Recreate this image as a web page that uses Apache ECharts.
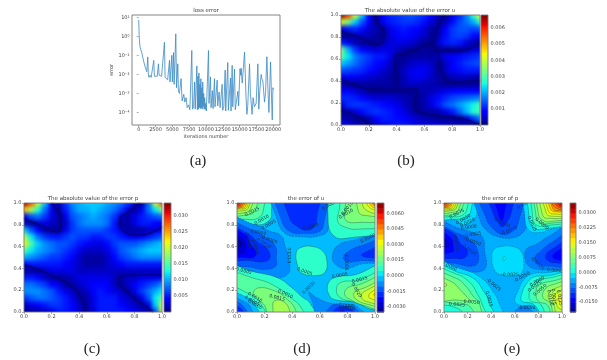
<!DOCTYPE html>
<html>
<head>
<meta charset="utf-8">
<title>error plots</title>
<script src="https://cdn.jsdelivr.net/npm/echarts@6/dist/echarts.min.js"></script>
<style>
html, body { margin: 0; padding: 0; background: #fff; }
#chart { position: absolute; left: 0; top: 0; width: 607px; height: 360px; filter: blur(0.35px); }
.clip { position: absolute; overflow: hidden; background: #0020ff; }
.heat { position: absolute; filter: blur(2.3px); }
</style>
</head>
<body>
<div class="clip" id="clipB"><div class="heat" id="heatB"></div></div>
<div class="clip" id="clipC"><div class="heat" id="heatC"></div></div>
<div id="chart"></div>
<script>
// (a) loss curve
const lossIter = [0,60,120,200,280,350,450,600,800,1000,1200,1344,1420,1520,1700,1850,2050,2237,2330,2500,2750,2932,3030,3200,3400,3600,3824,3920,4100,4300,4570,4650,4760,4917,5000,5060,5165,5260,5350,5510,5620,5808,5900,6050,6300,6450,6700,6850,7050,7200,7400,7600,7750,7891,8000,8150,8300,8400,8640,8720,8800,8880,8950,9020,9100,9160,9240,9300,9380,9440,9520,9580,9660,9720,9800,9880,9960,10050,10370,10450,10670,10750,10950,11050,11260,11340,11660,11740,11950,12100,12400,12480,12650,12850,12930,13240,13320,13640,13720,13890,13980,14240,14350,14740,14850,15050,15150,15230,15380,15500,15730,15830,15950,16080,16200,16470,16600,16850,17000,17200,17450,17710,17850,18000,18200,18300,18450,18700,18850,19050,19200,19350,19600,19780,19850,19950,20000];
const lossVal = [7.2,1.2,0.5,0.28,0.35,0.26,0.14,0.08,0.04,0.022,0.014,0.083,0.012,0.007,0.009,0.007,0.008,0.055,0.008,0.007,0.008,0.036,0.009,0.011,0.008,0.007,0.49,0.007,0.006,0.0052,0.055,0.004,0.004,0.1,0.004,0.0035,0.14,0.003,0.0025,1.35,0.002,0.036,0.0013,0.001,0.006,0.0004,0.0009,0.00035,0.0006,0.00018,0.00025,0.00014,0.00016,0.18,0.00015,0.0002,0.004,0.00015,0.028,0.00014,0.008,0.00015,0.012,0.00018,0.003,0.00016,0.006,0.00017,0.002,0.00015,0.004,0.0002,0.001,0.00015,0.0006,0.00014,0.0003,0.00012,0.18,0.0003,0.0074,0.00018,0.0014,0.00016,0.006,0.0002,0.005,0.00022,0.0012,0.00018,0.003,0.00013,0.0002,0.017,0.00012,0.042,0.00013,0.0065,0.00012,0.03,0.0002,0.019,0.00014,0.0013,0.00022,0.02,0.009,0.021,0.0035,0.012,0.15,0.012,0.0006,0.00008,0.0002,0.036,0.001,0.00008,0.0006,0.0002,0.0003,0.036,0.00015,0.0015,0.01,0.006,0.0045,0.00035,0.0011,0.085,0.002,0.0001,0.045,0.0002,0.00004,0.002,0.0016];
const lossXTicks = [0,2500,5000,7500,10000,12500,15000,17500,20000];
const lossYTicks = [10,1,0.1,0.01,0.001,0.0001];
const lossYLabels = ['10¹','10⁰','10⁻¹','10⁻²','10⁻³','10⁻⁴'];

// (b) |error u|, in units of 1e-4, rows from y=1 down to y=0, columns x=0..1
const absURows = [
  [68,58,42,22,8,1,8,11,12,13,14,13,11,8,4,1,6,11,17,28,44],
  [42,34,22,14,7,1,7,10,11,12,12,11,9,5,2,3,9,13,16,20,28],
  [5,10,11,9,5,3,1,6,9,10,9,8,5,2,2,8,12,14,14,13,14],
  [1,1,3,4,3,2,1,5,8,9,8,6,4,1,3,9,12,13,12,9,7],
  [10,6,3,1,1,1,3,5,6,6,5,3,1,1,5,10,11,10,5,3,1],
  [34,20,12,8,6,5,6,6,4,2,1,1,2,1,1,1,1,2,3,5,6],
  [32,24,17,14,12,10,10,6,2,1,2,2,2,2,4,6,8,9,10,11,12],
  [22,19,16,13,11,9,8,4,1,2,4,5,5,4,1,4,8,10,12,13,14],
  [14,13,12,11,9,7,5,3,1,4,6,7,7,5,1,4,7,9,10,10,10],
  [6,7,7,6,5,4,3,2,1,3,6,7,6,4,2,2,3,4,4,3,3],
  [2,1,1,2,2,2,2,2,2,3,4,4,3,3,2,1,1,1,1,1,2],
  [8,7,5,3,1,1,1,1,1,1,1,2,3,3,5,6,7,8,8,8,8],
  [11,11,10,8,6,5,5,5,4,3,2,1,3,6,9,11,13,14,15,16,17],
  [5,11,12,12,11,10,9,8,6,4,2,1,3,6,10,14,16,19,22,25,30],
  [1,3,5,9,11,12,11,10,8,6,3,1,2,2,3,6,10,15,21,27,29],
  [3,2,1,1,3,8,10,10,9,8,6,4,3,2,1,1,1,1,5,12,17],
  [9,7,5,3,1,4,7,9,10,10,9,8,7,7,7,6,5,4,3,1,2]
];
// (c) |error p|, in units of 1e-3
const absPRows = [
  [33,28,20,11,4,1,6,9,10,11,11,11,10,9,8,6,3,1,8,20,28],
  [24,19,13,8,3,1,5,8,10,10,11,10,9,8,6,3,1,3,8,12,18],
  [4,7,8,6,3,1,3,7,8,9,10,9,8,6,3,1,3,5,6,7,8],
  [2,1,2,3,2,1,2,6,8,9,9,9,8,5,1,1,3,5,5,4,3],
  [11,7,4,1,1,1,3,6,7,7,7,7,6,5,3,1,1,1,2,3,4],
  [19,12,8,6,5,5,6,7,6,6,5,5,6,6,5,4,3,4,5,6,7],
  [22,15,11,9,8,7,7,6,5,4,3,3,4,6,7,7,7,8,9,10,11],
  [15,12,10,9,8,7,6,5,3,2,2,2,3,5,7,8,9,10,11,11,11],
  [10,9,8,7,6,6,5,4,2,1,1,1,2,4,6,7,8,9,9,9,9],
  [4,5,5,5,5,5,4,3,2,1,1,1,2,3,4,5,5,5,5,5,5],
  [1,1,1,2,3,3,3,3,2,2,2,2,2,2,2,2,2,2,2,2,2],
  [5,5,4,2,1,1,1,2,3,3,3,3,3,2,1,2,2,3,3,3,3],
  [8,8,7,6,4,3,1,1,2,3,4,4,4,2,1,2,4,5,6,7,9],
  [9,9,9,8,7,5,3,2,1,2,4,5,4,3,2,1,3,6,8,10,12],
  [6,7,8,8,7,6,5,3,1,1,3,5,5,5,3,2,1,3,7,12,16],
  [2,3,4,5,6,6,5,4,2,1,3,5,5,5,4,3,2,1,3,11,20],
  [1,1,1,2,3,5,5,4,2,1,2,5,5,5,5,4,3,2,1,7,20]
];
const absUMax = 68;
const absPMax = 33.8;
const absUTicks = [0.001,0.002,0.003,0.004,0.005,0.006];
const absPTicks = [0.005,0.01,0.015,0.02,0.025,0.03];
const unitTicks = [0,0.2,0.4,0.6,0.8,1];

// near-zero valleys of (b) and (c)
const absUValleys = [
  [[0,.85],[.14,.79],[.26,.73],[.31,.83],[.27,.92],[.24,1]],
  [[.39,.5],[.39,.62],[.47,.65],[.6,.72],[.67,.76],[.69,.88],[.74,1]],
  [[.67,.74],[.7,.67],[.81,.67],[1,.74]],
  [[.7,.65],[.72,.52],[.75,.42],[.81,.39],[1,.41]],
  [[.39,.5],[.4,.4],[.39,.33]],
  [[0,.42],[.21,.33],[.39,.32],[.55,.33]],
  [[.55,.32],[.53,.2],[.55,.13],[.67,.09],[.86,.06],[1,0]],
  [[0,.136],[.14,.06],[.21,0]]
];
const absPValleys = [
  [[0,.857],[.166,.766],[.24,.735],[.27,.857],[.21,.98],[.2,1]],
  [[.84,1],[.77,.93],[.695,.84],[.73,.735],[.84,.705],[1,.78]],
  [[0,.43],[.14,.37],[.31,.265],[.41,.14],[.44,0]],
  [[1,.34],[.79,.34],[.68,.295],[.79,.14],[.86,.07],[.935,0]]
];

// corners outside the plot, they close the traced contours
const TL = [-0.1,1.1], TR = [1.1,1.1], BL = [-0.1,-0.1], BR = [1.1,-0.1];

// (d) error u: filled contours, [lower level, outline]
const uLevels = [-0.0035,-0.003,-0.0025,-0.002,-0.0015,-0.001,-0.0005,0,0.0005,0.001,0.0015,0.002,0.0025,0.003,0.0035,0.004,0.0045,0.005,0.0055,0.006,0.0065,0.007];
const uTicks = [-0.003,-0.0015,0,0.0015,0.003,0.0045,0.006];
const uBase = -0.0005;
const uRegions = [
  [0.0005,[[.43,.55],[.47,.595],[.55,.6],[.62,.56],[.65,.48],[.64,.37],[.58,.335],[.47,.355],[.44,.42]]],
  // top left corner
  [0.0005,[[.24,1.1],[.25,.93],[.24,.85],[.15,.8],[-.1,.88],TL]],
  [0.001,[[.18,1.1],[.19,.93],[.15,.86],[.07,.85],[-.1,.89],TL]],
  [0.0015,[[.14,1.1],[.13,.93],[.07,.89],[-.1,.90],TL]],
  [0.002,[[.11,1.1],[.1,.95],[.05,.91],[-.1,.915],TL]],
  [0.0025,[[.095,1.1],[.08,.95],[.04,.93],[-.1,.93],TL]],
  [0.003,[[.08,1.1],[.07,.96],[.03,.945],[-.1,.945],TL]],
  [0.0035,[[.07,1.1],[.06,.965],[.02,.955],[-.1,.955],TL]],
  [0.004,[[.055,1.1],[.045,.97],[-.1,.965],TL]],
  [0.0045,[[.045,1.1],[.035,.975],[-.1,.97],TL]],
  [0.005,[[.035,1.1],[.025,.98],[-.1,.975],TL]],
  [0.0055,[[.025,1.1],[.015,.988],[-.1,.985],TL]],
  [0.006,[[.018,1.1],[.008,.992],[-.1,.99],TL]],
  // left blue
  [-0.001,[[-.1,.87],[.13,.80],[.24,.74],[.32,.70],[.35,.6],[.38,.46],[.37,.35],[.27,.31],[.12,.33],[-.1,.385]]],
  [-0.0015,[[-.1,.83],[.1,.76],[.2,.69],[.28,.6],[.285,.5],[.28,.42],[.2,.39],[.1,.41],[-.1,.46]]],
  [-0.002,[[-.1,.80],[.08,.72],[.15,.64],[.22,.58],[.24,.5],[.2,.46],[.1,.47],[-.1,.5]]],
  [-0.0025,[[-.1,.78],[.06,.71],[.1,.62],[.14,.55],[.12,.5],[.05,.5],[-.1,.52]]],
  [-0.003,[[-.1,.76],[.04,.68],[.06,.6],[.05,.54],[-.1,.54]]],
  [-0.0035,[[-.1,.72],[.02,.66],[.03,.6],[-.1,.57]]],
  // top blue
  [-0.001,[[.26,1.1],[.29,.85],[.35,.72],[.46,.69],[.6,.7],[.66,.76],[.67,1.1]]],
  [-0.0015,[[.29,1.1],[.32,.85],[.38,.74],[.5,.72],[.6,.74],[.63,.82],[.64,1.1]]],
  [-0.002,[[.35,1.1],[.38,.86],[.43,.79],[.5,.75],[.56,.78],[.58,.88],[.59,1.1]]],
  // right blue
  [-0.001,[[1.1,.74],[.85,.66],[.73,.61],[.69,.5],[.73,.42],[.8,.40],[.9,.44],[1.1,.48]]],
  [-0.0015,[[1.1,.67],[.88,.6],[.8,.55],[.77,.5],[.8,.46],[.9,.47],[1.1,.49]]],
  [-0.002,[[1.1,.63],[.93,.55],[.9,.52],[.95,.5],[1.1,.5]]],
  // bottom left
  [0.0005,[[-.1,.41],[.15,.36],[.3,.31],[.40,.22],[.47,.14],[.53,.08],[.58,-.1],BL]],
  [0.001,[[-.1,.34],[.15,.30],[.3,.22],[.4,.12],[.46,.05],[.5,-.1],BL]],
  [0.0015,[[.15,.22],[.28,.19],[.36,.12],[.42,.03],[.43,-.1],[.24,-.1],[.2,.06],[.12,.15]]],
  [0.002,[[.27,.1],[.33,.1],[.38,.02],[.38,-.1],[.28,-.1],[.26,.05]]],
  [0.0005,[[-.1,.23],[.1,.16],[.17,.08],[.22,-.1],BL]],
  [-0.0005,[[-.1,.19],[.08,.13],[.13,.07],[.18,-.1],BL]],
  [-0.001,[[-.1,.15],[.06,.09],[.1,.04],[.13,-.1],BL]],
  [-0.0015,[[-.1,.11],[.04,.06],[.08,-.1],BL]],
  [-0.002,[[-.1,.07],[.03,.03],[.05,-.1],BL]],
  // bottom wedge
  [-0.001,[[.52,.18],[.58,.13],[.68,.08],[.78,.075],[.88,.04],[.97,-.1],[.6,-.1],[.55,.08]]],
  [-0.0015,[[.68,.055],[.78,.055],[.86,.03],[.93,-.1],[.64,-.1]]],
  [-0.002,[[.72,.035],[.82,.03],[.89,-.1],[.68,-.1]]],
  [-0.0025,[[.76,.015],[.84,-.1],[.72,-.1]]],
  // bottom right
  [0.0005,[[1.1,.43],[.85,.34],[.72,.32],[.66,.26],[.67,.15],[.72,.11],[.85,.09],[.95,.04],[1.1,-.05],BR]],
  [0.001,[[1.1,.37],[.87,.29],[.75,.27],[.72,.2],[.75,.13],[.88,.08],[.96,.03],[1.1,0],BR]],
  [0.0015,[[1.1,.33],[.88,.25],[.8,.22],[.78,.16],[.82,.115],[.92,.06],[1.1,.02]]],
  [0.002,[[1.1,.3],[.92,.22],[.85,.18],[.86,.12],[.95,.07],[1.1,.05]]],
  [0.0025,[[1.1,.27],[.94,.2],[.9,.15],[.93,.1],[1.1,.08]]],
  [0.003,[[1.1,.24],[.97,.18],[.96,.13],[1.1,.1]]],
  [0.0035,[[1.1,.2],[.99,.16],[1.1,.12]]],
  // top right
  [0.0005,[[.70,1.1],[.66,.86],[.70,.70],[.81,.68],[1.1,.78],TR]],
  [0.001,[[.78,1.1],[.74,.93],[.73,.83],[.78,.78],[.88,.76],[1.1,.82],TR]],
  [0.0015,[[.83,1.1],[.78,.92],[.79,.84],[.86,.82],[1.1,.87],TR]],
  [0.002,[[.89,1.1],[.88,.92],[.93,.885],[1.1,.90],TR]],
  [0.0025,[[.93,1.1],[.93,.94],[1.1,.925],TR]],
  [0.003,[[.95,1.1],[.96,.96],[1.1,.945],TR]],
  [0.0035,[[.965,1.1],[.975,.97],[1.1,.96],TR]],
  [0.004,[[.98,1.1],[.99,.98],[1.1,.975],TR]],
  [0.0045,[[.99,1.1],[.995,.99],[1.1,.985],TR]]
];
const uLabels = [
  [.11,.92,'0.0015',25],[.18,.845,'0.0010',30],[.23,.80,'0.0005',30],[.155,.73,'0.0000',-10],
  [.23,.665,'-0.0005',-20],[.19,.63,'-0.0010',-30],[.08,.66,'-0.0010',-80],[.13,.6,'-0.0005',-70],
  [.385,.52,'0.0000',90],[.49,.37,'0.0005',-20],[.53,.78,'-0.0010',15],[.52,.22,'0.0000',45],
  [.745,.335,'0.0005',10],[.79,.46,'-0.0005',-90],[.95,.675,'0.0000',25],[.89,.295,'0.0015',15],
  [.865,.2,'0.0020',-60],[.79,.035,'-0.0010',-5],[.79,.06,'-0.0005',-5],[.67,.98,'0.0000',30],
  [.8,.95,'0.0015',50],[.79,.9,'0.0010',30],[.05,.375,'0.0005',-15],[.13,.135,'0.0010',-30],
  [.11,.1,'0.0005',-30],[.13,.07,'0.0000',-30],[.29,.13,'0.0015',-15],[.35,.165,'0.0010',-25]
];

// (e) error p
const pLevels = [-0.02,-0.0175,-0.015,-0.0125,-0.01,-0.0075,-0.005,-0.0025,0,0.0025,0.005,0.0075,0.01,0.0125,0.015,0.0175,0.02,0.0225,0.025,0.0275,0.03,0.0325,0.035];
const pTicks = [-0.015,-0.0075,0,0.0075,0.015,0.0225,0.03];
const pBase = -0.005;
const pRegions = [
  [-0.0025,[[.405,.5],[.42,.57],[.48,.6],[.58,.6],[.65,.56],[.675,.47],[.66,.36],[.6,.33],[.5,.335],[.43,.38]]],
  [0,[[.51,.505],[.522,.49],[.51,.475],[.498,.49]]],
  // top left corner
  [-0.0025,[[.27,1.1],[.28,.92],[.25,.85],[.17,.80],[.08,.85],[-.1,.86],TL]],
  [0,[[.22,1.1],[.23,.94],[.19,.87],[.11,.85],[-.1,.875],TL]],
  [0.0025,[[.19,1.1],[.19,.93],[.14,.88],[.07,.875],[-.1,.89],TL]],
  [0.005,[[.165,1.1],[.15,.94],[.1,.9],[-.1,.905],TL]],
  [0.0075,[[.14,1.1],[.125,.945],[.08,.915],[-.1,.92],TL]],
  [0.01,[[.12,1.1],[.105,.955],[.06,.93],[-.1,.935],TL]],
  [0.0125,[[.105,1.1],[.09,.96],[.05,.94],[-.1,.945],TL]],
  [0.015,[[.09,1.1],[.075,.965],[.04,.95],[-.1,.955],TL]],
  [0.0175,[[.075,1.1],[.06,.97],[.03,.96],[-.1,.965],TL]],
  [0.02,[[.06,1.1],[.045,.975],[-.1,.97],TL]],
  [0.0225,[[.045,1.1],[.03,.98],[-.1,.98],TL]],
  [0.025,[[.03,1.1],[.02,.99],[-.1,.988],TL]],
  [0.0275,[[.015,1.1],[.01,.995],[-.1,.994],TL]],
  // left blue
  [-0.0075,[[-.1,.83],[.15,.76],[.27,.72],[.33,.68],[.345,.55],[.36,.44],[.33,.38],[.22,.37],[.1,.4],[-.1,.47]]],
  [-0.01,[[-.1,.80],[.12,.72],[.22,.66],[.28,.58],[.29,.46],[.24,.42],[.12,.44],[-.1,.5]]],
  [-0.0125,[[-.1,.78],[.08,.72],[.14,.63],[.2,.56],[.18,.5],[.1,.49],[-.1,.52]]],
  [-0.015,[[-.1,.76],[.05,.69],[.08,.6],[.07,.55],[-.1,.55]]],
  [-0.0175,[[-.1,.73],[.025,.66],[.035,.6],[-.1,.58]]],
  // top blue
  [-0.0075,[[.27,1.1],[.3,.86],[.36,.75],[.46,.69],[.58,.68],[.66,.72],[.7,.8],[.70,1.1]]],
  [-0.01,[[.31,1.1],[.36,.85],[.42,.76],[.5,.71],[.58,.74],[.63,.82],[.65,1.1]]],
  [-0.0125,[[.38,1.1],[.42,.89],[.46,.82],[.49,.78],[.53,.82],[.57,.91],[.58,1.1]]],
  [-0.015,[[.43,1.1],[.46,.9],[.49,.84],[.51,.9],[.53,1.1]]],
  // right blue
  [-0.0075,[[1.1,.8],[.88,.69],[.78,.62],[.70,.58],[.685,.5],[.72,.42],[.8,.39],[.9,.39],[1.1,.40]]],
  [-0.01,[[1.1,.74],[.9,.63],[.82,.56],[.77,.5],[.8,.44],[.9,.42],[1.1,.43]]],
  [-0.0125,[[1.1,.68],[.92,.58],[.86,.52],[.88,.47],[.95,.45],[1.1,.46]]],
  [-0.015,[[1.1,.63],[.95,.55],[.92,.51],[.96,.48],[1.1,.48]]],
  // bottom left
  [-0.0025,[[-.1,.45],[.16,.39],[.32,.31],[.42,.18],[.46,.1],[.5,-.1],BL]],
  [0,[[-.1,.42],[.13,.36],[.26,.3],[.33,.2],[.38,.1],[.42,-.1],BL]],
  [0.0025,[[-.1,.39],[.1,.35],[.22,.27],[.28,.17],[.32,.08],[.36,-.1],BL]],
  [0.005,[[-.1,.35],[.1,.31],[.19,.23],[.25,.14],[.3,.08],[.3,-.1],BL]],
  [0.0075,[[-.1,.32],[.06,.28],[.14,.2],[.2,.13],[.22,.1],[.1,.11],[-.1,.11]]],
  [0.01,[[-.1,.29],[.015,.26],[.02,.24],[-.1,.21]]],
  [0.0025,[[-.1,.085],[.12,.07],[.22,.05],[.26,-.1],BL]],
  [0,[[-.1,.04],[.12,.03],[.18,-.1],BL]],
  // bottom right
  [-0.0025,[[1.1,.36],[.86,.36],[.75,.35],[.68,.3],[.63,.2],[.6,.1],[.65,.06],[.76,.05],[.85,-.1],BR]],
  [-0.0075,[[.55,-.1],[.63,.035],[.72,.035],[.8,-.1]]],
  [0,[[1.1,.34],[.86,.33],[.76,.32],[.70,.26],[.66,.17],[.66,.1],[.76,.07],[.88,-.1],BR]],
  [0.0025,[[1.1,.32],[.88,.31],[.78,.28],[.74,.22],[.72,.15],[.74,.1],[.82,.07],[.9,-.1],BR]],
  [0.005,[[1.1,.29],[.9,.28],[.8,.24],[.78,.17],[.8,.1],[.88,.06],[.93,-.1],BR]],
  [0.0075,[[1.1,.27],[.92,.25],[.85,.2],[.84,.13],[.9,.08],[.95,-.1],BR]],
  [0.01,[[1.1,.25],[.95,.22],[.89,.17],[.89,.11],[.93,.07],[.97,-.1],BR]],
  [0.0125,[[1.1,.22],[.96,.18],[.93,.13],[.95,.08],[.98,.03],[1.1,.02]]],
  [0.015,[[1.1,.19],[.98,.14],[.97,.1],[1.1,.06]]],
  [0.0175,[[1.1,.14],[.995,.12],[1.1,.09]]],
  // top right
  [-0.0025,[[.70,1.1],[.685,.88],[.72,.75],[.82,.73],[.9,.76],[1.1,.82],TR]],
  [0,[[.74,1.1],[.72,.88],[.75,.78],[.84,.76],[1.1,.85],TR]],
  [0.0025,[[.77,1.1],[.75,.88],[.78,.80],[.86,.79],[1.1,.865],TR]],
  [0.005,[[.79,1.1],[.78,.88],[.81,.82],[.88,.81],[1.1,.88],TR]],
  [0.0075,[[.81,1.1],[.80,.9],[.84,.84],[.9,.83],[1.1,.89],TR]],
  [0.01,[[.83,1.1],[.83,.91],[.87,.86],[1.1,.905],TR]],
  [0.0125,[[.85,1.1],[.86,.93],[.9,.88],[1.1,.92],TR]],
  [0.015,[[.87,1.1],[.88,.94],[.92,.9],[1.1,.93],TR]],
  [0.0175,[[.885,1.1],[.9,.95],[.94,.92],[1.1,.94],TR]],
  [0.02,[[.9,1.1],[.92,.955],[.96,.93],[1.1,.95],TR]],
  [0.0225,[[.92,1.1],[.94,.96],[1.1,.955],TR]],
  [0.025,[[.94,1.1],[.96,.97],[1.1,.965],TR]],
  [0.0275,[[.955,1.1],[.975,.98],[1.1,.975],TR]],
  [0.03,[[.97,1.1],[.985,.99],[1.1,.985],TR]],
  [0.0325,[[.985,1.1],[.993,.995],[1.1,.993],TR]]
];
const pLabels = [
  [.11,.9,'0.0075',30],[.165,.85,'0.0050',30],[.2,.82,'0.0025',25],[.21,.775,'0.0000',10],
  [.24,.71,'-0.0025',10],[.24,.645,'-0.0050',-20],[.21,.57,'-0.0025',-35],[.1,.63,'-0.0100',-80],
  [.49,.82,'-0.0100',-25],[.55,.745,'-0.0075',20],[.56,.34,'-0.0025',0],[.42,.25,'-0.0025',-40],
  [.66,.32,'-0.0050',30],[.38,.12,'0.0025',-75],[.235,.09,'0.0050',-5],[.11,.067,'0.0025',-5],
  [.7,.035,'-0.0050',0],[.79,.445,'-0.0075',-45],[.94,.38,'0.0050',-5],[.045,.42,'0.0000',-25],
  [.83,.81,'0.0050',-40],[.745,.81,'0.0025',-65],[.79,.28,'0.0000',30],[.77,.235,'0.0025',35],
  [.815,.2,'0.0050',40],[.93,.14,'0.0075',-85],[.9,.13,'0.0100',-80],[.98,.13,'0.0125',-80],
  [.68,.99,'-0.0025',30]
];

// matplotlib jet
function jet(t) {
  const ramp = (stops) => {
    for (let i = 1; i < stops.length; i++) {
      if (t <= stops[i][0]) {
        const a = stops[i - 1], b = stops[i];
        return a[1] + (b[1] - a[1]) * (t - a[0]) / (b[0] - a[0]);
      }
    }
    return stops[stops.length - 1][1];
  };
  const r = ramp([[0,0],[0.35,0],[0.66,1],[0.89,1],[1,0.5]]);
  const g = ramp([[0,0],[0.125,0],[0.375,1],[0.64,1],[0.91,0],[1,0]]);
  const b = ramp([[0,0.5],[0.11,1],[0.34,1],[0.65,0],[1,0]]);
  return 'rgb(' + Math.round(r * 255) + ',' + Math.round(g * 255) + ',' + Math.round(b * 255) + ')';
}
const jetRamp = [];
for (let i = 0; i <= 64; i++) jetRamp.push(jet(i / 64));

const FONT = 'DejaVu Sans';
const INK = '#444';
const FRAME = '#777';

// smooth imshow panels sit under the main chart, blurred and clipped to the axes
function drawHeat(clipId, heatId, rect, rows, max) {
  const clip = document.getElementById(clipId);
  const heat = document.getElementById(heatId);
  const cw = rect.width / 20, ch = rect.height / 16;
  clip.style.cssText = 'left:' + rect.left + 'px;top:' + rect.top + 'px;width:' + rect.width + 'px;height:' + rect.height + 'px';
  heat.style.cssText = 'left:' + (-1.5 * cw) + 'px;top:' + (-1.5 * ch) + 'px;width:' + (23 * cw) + 'px;height:' + (19 * ch) + 'px';
  const cols = [], lines = [], cells = [];
  for (let i = 0; i < 23; i++) cols.push(i);
  for (let j = 0; j < 19; j++) lines.push(j);
  // border cells repeated once so the blur does not fade out at the axes
  lines.forEach((j) => {
    const row = rows[Math.min(Math.max(j - 1, 0), 16)];
    cols.forEach((i) => cells.push([i, j, row[Math.min(Math.max(i - 1, 0), 20)]]));
  });
  const c = echarts.init(heat);
  c.setOption({
    animation: false,
    grid: { left: 0, right: 0, top: 0, bottom: 0 },
    xAxis: { type: 'category', data: cols, show: false },
    yAxis: { type: 'category', data: lines, show: false, inverse: true },
    visualMap: { show: false, min: 0, max: max, inRange: { color: jetRamp } },
    series: [{ type: 'heatmap', data: cells, itemStyle: { borderWidth: 0 }, progressive: 0 }]
  });
}

const rects = {
  a: { left: 132, top: 15, width: 148, height: 110 },
  b: { left: 341, top: 15, width: 139, height: 110 },
  bBar: { left: 481, top: 15, width: 7, height: 110 },
  c: { left: 24, top: 203, width: 138, height: 109 },
  cBar: { left: 164, top: 203, width: 7, height: 109 },
  d: { left: 237, top: 203, width: 138, height: 109 },
  dBar: { left: 377, top: 203, width: 7, height: 109 },
  e: { left: 444, top: 203, width: 118, height: 109 },
  eBar: { left: 570, top: 203, width: 6, height: 109 }
};

drawHeat('clipB', 'heatB', rects.b, absURows, absUMax);
drawHeat('clipC', 'heatC', rects.c, absPRows, absPMax);

const grids = [], xAxes = [], yAxes = [], series = [];

function axisBase(ticks, digits) {
  return {
    axisLine: { show: false },
    splitLine: { show: false },
    axisTick: { length: 2, lineStyle: { color: FRAME, width: 0.6 }, customValues: ticks },
    axisLabel: {
      fontFamily: FONT, fontSize: 5, color: INK, margin: 2.5, customValues: ticks,
      formatter: (v) => Number(v).toFixed(digits)
    }
  };
}

function frameSeries(idx) {
  series.push({
    type: 'custom', xAxisIndex: idx, yAxisIndex: idx, z: 20, silent: true, data: [0],
    renderItem: (params) => {
      const cs = params.coordSys;
      return { type: 'rect', shape: { x: cs.x, y: cs.y, width: cs.width, height: cs.height },
        style: { fill: 'none', stroke: FRAME, lineWidth: 0.9 } };
    }
  });
}

function unitPanel(rect) {
  const idx = grids.length;
  grids.push(rect);
  xAxes.push(Object.assign({ type: 'value', gridIndex: idx, min: 0, max: 1, position: 'bottom' }, axisBase(unitTicks, 1)));
  yAxes.push(Object.assign({ type: 'value', gridIndex: idx, min: 0, max: 1, position: 'left' }, axisBase(unitTicks, 1)));
  return idx;
}

function barPanel(rect, min, max, ticks, digits) {
  const idx = grids.length;
  grids.push(rect);
  xAxes.push({ type: 'value', gridIndex: idx, min: 0, max: 1, show: false });
  yAxes.push(Object.assign({ type: 'value', gridIndex: idx, min: min, max: max, position: 'right' }, axisBase(ticks, digits)));
  return idx;
}

function valleySeries(idx, valleys) {
  valleys.forEach((line) => {
    series.push({
      type: 'line', xAxisIndex: idx, yAxisIndex: idx, z: 3, silent: true, showSymbol: false,
      smooth: 0.5, data: line,
      lineStyle: { color: '#00006a', width: 1.6, opacity: 0.6, shadowBlur: 3, shadowColor: '#000070' }
    });
  });
}

function contourPanel(idx, base, regions, levels, labels) {
  const lo = levels[0], hi = levels[levels.length - 1], step = levels[1] - levels[0];
  const bandColor = (level) => jet((level + step / 2 - lo) / (hi - lo));
  series.push({
    type: 'custom', xAxisIndex: idx, yAxisIndex: idx, z: 2, clip: true, silent: true, data: [0],
    renderItem: (params, api) => {
      const a = api.coord([0, 1]), b = api.coord([1, 0]);
      return { type: 'rect', shape: { x: a[0], y: a[1], width: b[0] - a[0], height: b[1] - a[1] }, style: { fill: bandColor(base) } };
    }
  });
  series.push({
    type: 'custom', xAxisIndex: idx, yAxisIndex: idx, z: 3, clip: true, silent: true,
    data: regions.map((r, i) => i),
    renderItem: (params, api) => {
      const region = regions[params.dataIndex];
      return {
        type: 'polygon',
        shape: { points: region[1].map((p) => api.coord(p)), smooth: 0.45 },
        style: {
          fill: bandColor(region[0]), stroke: 'rgba(15,30,45,0.6)', lineWidth: 0.5,
          lineDash: region[0] < 0 ? [2, 1] : null
        }
      };
    }
  });
  series.push({
    type: 'custom', xAxisIndex: idx, yAxisIndex: idx, z: 4, clip: true, silent: true,
    data: labels.map((r, i) => i),
    renderItem: (params, api) => {
      const item = labels[params.dataIndex];
      const p = api.coord([item[0], item[1]]);
      return {
        type: 'text', x: p[0], y: p[1], rotation: item[3] * Math.PI / 180,
        style: { text: item[2], x: 0, y: 0, align: 'center', verticalAlign: 'middle', fill: '#13303f', font: '4.6px "' + FONT + '"' }
      };
    }
  });
}

function levelBar(idx, levels) {
  const lo = levels[0], hi = levels[levels.length - 1], step = levels[1] - levels[0];
  series.push({
    type: 'custom', xAxisIndex: idx, yAxisIndex: idx, z: 3, silent: true,
    data: levels.slice(0, -1).map((l, i) => i),
    renderItem: (params, api) => {
      const l = levels[params.dataIndex];
      const a = api.coord([0, l + step]), b = api.coord([1, l]);
      return { type: 'rect', shape: { x: a[0], y: a[1], width: b[0] - a[0], height: b[1] - a[1] + 0.5 },
        style: { fill: jet((l + step / 2 - lo) / (hi - lo)) } };
    }
  });
}

function rampBar(idx, min, max) {
  series.push({
    type: 'custom', xAxisIndex: idx, yAxisIndex: idx, z: 3, silent: true, data: [0],
    renderItem: (params, api) => {
      const a = api.coord([0, max]), b = api.coord([1, min]);
      return { type: 'rect', shape: { x: a[0], y: a[1], width: b[0] - a[0], height: b[1] - a[1] },
        style: { fill: new echarts.graphic.LinearGradient(0, 1, 0, 0, jetRamp.map((c, i) => ({ offset: i / 64, color: c }))) } };
    }
  });
}

// (a)
grids.push(rects.a);
xAxes.push(Object.assign({ type: 'value', gridIndex: 0, min: -1000, max: 21000,
  name: 'iterations number', nameLocation: 'middle', nameGap: 9,
  nameTextStyle: { fontFamily: FONT, fontSize: 5, color: INK } }, axisBase(lossXTicks, 0)));
const lossY = Object.assign({ type: 'log', gridIndex: 0, min: 2.2e-5, max: 13.2,
  name: 'error', nameLocation: 'middle', nameGap: 12,
  nameTextStyle: { fontFamily: FONT, fontSize: 5, color: INK } }, axisBase(lossYTicks, 0));
lossY.axisLabel.formatter = (v) => lossYLabels[lossYTicks.findIndex((t) => Math.abs(Math.log10(t) - Math.log10(v)) < 0.01)];
yAxes.push(lossY);
series.push({
  type: 'line', xAxisIndex: 0, yAxisIndex: 0, showSymbol: false, silent: true,
  data: lossIter.map((x, i) => [x, lossVal[i]]),
  lineStyle: { color: '#3b8ac4', width: 1, opacity: 0.8 }
});
frameSeries(0);

// (b)
const bIdx = unitPanel(rects.b);
valleySeries(bIdx, absUValleys);
frameSeries(bIdx);
const bBar = barPanel(rects.bBar, 0, 0.0068, absUTicks, 3);
rampBar(bBar, 0, 0.0068);
frameSeries(bBar);

// (c)
const cIdx = unitPanel(rects.c);
valleySeries(cIdx, absPValleys);
frameSeries(cIdx);
const cBar = barPanel(rects.cBar, 0, 0.0338, absPTicks, 3);
rampBar(cBar, 0, 0.0338);
frameSeries(cBar);

// (d)
const dIdx = unitPanel(rects.d);
contourPanel(dIdx, uBase, uRegions, uLevels, uLabels);
frameSeries(dIdx);
const dBar = barPanel(rects.dBar, uLevels[0], uLevels[uLevels.length - 1], uTicks, 4);
levelBar(dBar, uLevels);
frameSeries(dBar);

// (e)
const eIdx = unitPanel(rects.e);
contourPanel(eIdx, pBase, pRegions, pLevels, pLabels);
frameSeries(eIdx);
const eBar = barPanel(rects.eBar, pLevels[0], pLevels[pLevels.length - 1], pTicks, 4);
levelBar(eBar, pLevels);
frameSeries(eBar);

const plotTitle = (text, x, y) => ({ text, left: x, top: y, textAlign: 'center', padding: 0,
  textStyle: { fontFamily: FONT, fontSize: 5.5, fontWeight: 'normal', color: INK } });
const caption = (text, x, y) => ({ text, left: x, top: y, textAlign: 'center', padding: 0,
  textStyle: { fontFamily: 'Liberation Serif', fontSize: 15, fontWeight: 'normal', color: '#222' } });

const chart = echarts.init(document.getElementById('chart'));
chart.setOption({
  animation: false,
  title: [
    plotTitle('loss error', 206, 8),
    plotTitle('The absolute value of the error u', 410, 8),
    plotTitle('The absolute value of the error p', 93, 196),
    plotTitle('the error of u', 306, 196),
    plotTitle('the error of p', 500, 196),
    caption('(a)', 198, 154),
    caption('(b)', 406, 154),
    caption('(c)', 92, 342),
    caption('(d)', 302, 342),
    caption('(e)', 512, 342)
  ],
  grid: grids,
  xAxis: xAxes,
  yAxis: yAxes,
  series: series
});
</script>
</body>
</html>
